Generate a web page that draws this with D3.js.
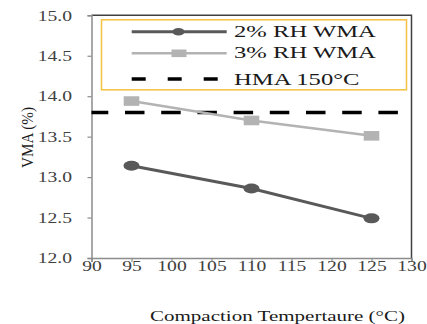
<!DOCTYPE html>
<html>
<head>
<meta charset="utf-8">
<script src="https://cdn.jsdelivr.net/npm/d3@7"></script>
<style>
  body { margin: 0; background: #fff; }
  text { font-family: "Liberation Serif", "Times New Roman", serif; }
</style>
</head>
<body>
<div id="container"></div>
<script>
let w = 427;
let h = 324;

// DATA
let temps = [95, 110, 125];
let rh2 = [13.14, 12.86, 12.49];
let rh3 = [13.94, 13.70, 13.51];
let hmaX = [90, 130];
let hmaY = [13.80, 13.80];
let xTicks = [90, 95, 100, 105, 110, 115, 120, 125, 130];
let yTicks = [12.0, 12.5, 13.0, 13.5, 14.0, 14.5, 15.0];
let legendLabels = ["2% RH WMA", "3% RH WMA", "HMA 150°C"];

let plotL = 91.5, plotR = 411.5, plotT = 15.3, plotB = 258;
let stretch = 1.4;

let viz = d3.select("#container").append("svg")
    .attr("width", w)
    .attr("height", h)
;

let xScale = d3.scaleLinear().domain([90, 130]).range([plotL, plotR]);
let yScale = d3.scaleLinear().domain([12, 15]).range([plotB, plotT]);

// frame (top + right)
viz.append("path")
    .attr("d", "M" + plotL + "," + plotT + "H" + plotR + "V" + plotB)
    .attr("fill", "none")
    .attr("stroke", "#404040")
    .attr("stroke-width", 1.5)
;

// AXES
let yAxis = d3.axisLeft(yScale).tickValues(yTicks).tickFormat(d3.format(".1f")).tickSizeOuter(0).tickSize(4);
let yG = viz.append("g").attr("transform", "translate(" + plotL + ",0)").call(yAxis);
yG.select(".domain").attr("stroke", "#8c8c8c").attr("stroke-width", 1.5);
yG.selectAll(".tick line").attr("stroke", "#8c8c8c").attr("stroke-width", 1.2);
yG.selectAll("text")
    .attr("x", -19.5 / stretch)
    .attr("dy", "0.34em")
    .attr("transform", "scale(" + stretch + ",1)")
    .attr("fill", "#404040")
    .style("font-size", "14px")
    .style("font-family", "Liberation Serif");

let xAxis = d3.axisBottom(xScale).tickValues(xTicks).tickSizeOuter(0).tickSize(4);
let xG = viz.append("g").attr("transform", "translate(0," + plotB + ")").call(xAxis);
xG.select(".domain").attr("stroke", "#8c8c8c").attr("stroke-width", 1.5);
xG.selectAll(".tick line").attr("stroke", "#8c8c8c").attr("stroke-width", 1.2);
xG.selectAll("text")
    .attr("y", 3.5)
    .attr("dy", "0.71em")
    .attr("x", 0)
    .attr("transform", "scale(" + stretch + ",1)")
    .attr("fill", "#404040")
    .style("font-size", "14px")
    .style("font-family", "Liberation Serif");

// HMA dashed line
let line = d3.line()
    .x(function(d) { return xScale(d[0]); })
    .y(function(d) { return yScale(d[1]); });

viz.append("path")
    .datum(hmaX.map(function(x, i) { return [x, hmaY[i]]; }))
    .attr("d", line)
    .attr("fill", "none")
    .attr("stroke", "#000")
    .attr("stroke-width", 3.5)
    .attr("stroke-dasharray", "19.5,16.7")
    .attr("stroke-dashoffset", 2.7)
;

// 3% series
let d3pts = temps.map(function(t, i) { return [t, rh3[i]]; });
viz.append("path")
    .datum(d3pts)
    .attr("d", line)
    .attr("fill", "none")
    .attr("stroke", "#b3b3b3")
    .attr("stroke-width", 2.5)
;
viz.selectAll(".sq").data(d3pts).enter()
  .append("rect")
    .attr("class", "sq")
    .attr("x", function(d) { return xScale(d[0]) - 7.8; })
    .attr("y", function(d) { return yScale(d[1]) - 4.8; })
    .attr("width", 15.6)
    .attr("height", 9.6)
    .attr("fill", "#b3b3b3")
;

// 2% series
let d2pts = temps.map(function(t, i) { return [t, rh2[i]]; });
viz.append("path")
    .datum(d2pts)
    .attr("d", line)
    .attr("fill", "none")
    .attr("stroke", "#595959")
    .attr("stroke-width", 3)
;
viz.selectAll(".dot").data(d2pts).enter()
  .append("ellipse")
    .attr("class", "dot")
    .attr("cx", function(d) { return xScale(d[0]); })
    .attr("cy", function(d) { return yScale(d[1]); })
    .attr("rx", 8)
    .attr("ry", 5)
    .attr("fill", "#595959")
;

// LEGEND
viz.append("rect")
    .attr("x", 101.5)
    .attr("y", 19.8)
    .attr("width", 305)
    .attr("height", 70)
    .attr("fill", "#fff")
    .attr("stroke", "#f5c142")
    .attr("stroke-width", 1.5)
;
let legY = [31.7, 53.3, 79];
let textBase = [37.3, 58.5, 85];
viz.append("line").attr("x1", 131.7).attr("x2", 226.7).attr("y1", legY[0]).attr("y2", legY[0])
    .attr("stroke", "#595959").attr("stroke-width", 3);
viz.append("ellipse").attr("cx", 178.5).attr("cy", legY[0]).attr("rx", 6).attr("ry", 3.8).attr("fill", "#595959");
viz.append("line").attr("x1", 131.7).attr("x2", 226.7).attr("y1", legY[1]).attr("y2", legY[1])
    .attr("stroke", "#b3b3b3").attr("stroke-width", 2.5);
viz.append("rect").attr("x", 171.5).attr("y", legY[1] - 3.8).attr("width", 15).attr("height", 7.6).attr("fill", "#b3b3b3");
viz.append("line").attr("x1", 131.7).attr("x2", 224).attr("y1", legY[2]).attr("y2", legY[2])
    .attr("stroke", "#000").attr("stroke-width", 3.5).attr("stroke-dasharray", "14,22");

viz.selectAll(".legtext").data(legendLabels).enter()
  .append("text")
    .attr("class", "legtext")
    .attr("x", 234 / 1.45)
    .attr("y", function(d, i) { return textBase[i]; })
    .attr("transform", "scale(1.45,1)")
    .attr("fill", "#1a1a1a")
    .style("font-size", "17px")
    .text(function(d) { return d; })
;

// AXIS TITLES
viz.append("text")
    .attr("transform", "translate(33,137.5) rotate(-90)")
    .attr("text-anchor", "middle")
    .attr("textLength", 61)
    .attr("lengthAdjust", "spacingAndGlyphs")
    .attr("fill", "#1a1a1a")
    .style("font-size", "17px")
    .text("VMA (%)")
;
viz.append("text")
    .attr("x", 150)
    .attr("y", 320.5)
    .attr("textLength", 255)
    .attr("lengthAdjust", "spacingAndGlyphs")
    .attr("fill", "#1a1a1a")
    .style("font-size", "15.5px")
    .text("Compaction Tempertaure (°C)")
;
</script>
</body>
</html>
